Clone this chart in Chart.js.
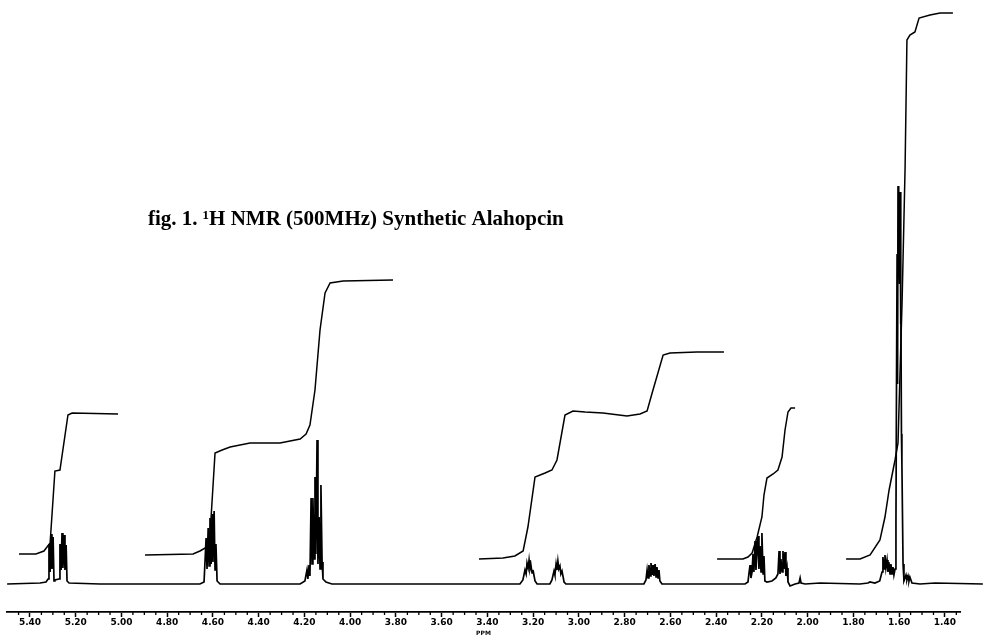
<!DOCTYPE html>
<html>
<head>
<meta charset="utf-8">
<script src="https://cdn.jsdelivr.net/npm/chart.js@4.4.1/dist/chart.umd.min.js"></script>
<style>
  html, body { margin: 0; padding: 0; background: #fff; }
  #wrap { width: 983px; height: 637px; }
</style>
</head>
<body>
<div id="wrap"><canvas id="grafico1"></canvas></div>
<script>
// titulo y etiquetas del eje
const titulo = 'fig. 1. \u00B9H NMR (500MHz) Synthetic Alahopcin';
const etiquetasPpm = [5.40, 5.20, 5.00, 4.80, 4.60, 4.40, 4.20, 4.00, 3.80, 3.60, 3.40,
                      3.20, 3.00, 2.80, 2.60, 2.40, 2.20, 2.00, 1.80, 1.60, 1.40];

// espectro: [ppm, intensidad]
const espectro = [
  [5.500, 0], [5.356, 1], [5.330, 2], [5.321, 5], [5.317, 40], [5.312, 12], [5.308, 50],
  [5.304, 15], [5.299, 47], [5.295, 3], [5.291, 4], [5.273, 5], [5.269, 40], [5.264, 14],
  [5.260, 51], [5.256, 16], [5.251, 49], [5.247, 14], [5.242, 39], [5.238, 3], [5.229, 1],
  [5.094, 0], [4.657, 0], [4.639, 2], [4.630, 46], [4.626, 15], [4.621, 56], [4.617, 18],
  [4.613, 66], [4.608, 20], [4.604, 70], [4.600, 22], [4.595, 73], [4.591, 14], [4.587, 40],
  [4.582, 3], [4.569, 0], [4.219, 0], [4.198, 3], [4.189, 14], [4.185, 5], [4.180, 19],
  [4.176, 8], [4.171, 86], [4.167, 20], [4.163, 86], [4.158, 25], [4.154, 107], [4.150, 30],
  [4.145, 144], [4.141, 20], [4.136, 67], [4.132, 15], [4.128, 99], [4.123, 22], [4.119, 5],
  [4.106, 2], [4.080, 0], [3.258, 0], [3.245, 4], [3.236, 14], [3.231, 10], [3.227, 21],
  [3.222, 16], [3.218, 24], [3.214, 15], [3.210, 19], [3.205, 11], [3.201, 14], [3.192, 3],
  [3.183, 0], [3.127, 0], [3.118, 4], [3.109, 13], [3.105, 9], [3.100, 20], [3.096, 14],
  [3.092, 23], [3.088, 15], [3.083, 18], [3.079, 10], [3.074, 13], [3.065, 2], [3.057, 0],
  [2.716, 0], [2.707, 4], [2.702, 14], [2.698, 6], [2.694, 19], [2.689, 8], [2.685, 21],
  [2.680, 9], [2.676, 19], [2.672, 8], [2.667, 20], [2.663, 7], [2.659, 17], [2.654, 6],
  [2.650, 14], [2.646, 3], [2.637, 0], [2.274, 0], [2.261, 2], [2.257, 10], [2.252, 19],
  [2.248, 6], [2.243, 12], [2.239, 30], [2.235, 12], [2.230, 43], [2.226, 14], [2.221, 35],
  [2.217, 48], [2.213, 15], [2.208, 38], [2.204, 12], [2.200, 51], [2.195, 10], [2.191, 28],
  [2.187, 3], [2.178, 2], [2.156, 3], [2.139, 6], [2.130, 10], [2.125, 33], [2.121, 10],
  [2.117, 25], [2.112, 12], [2.108, 33], [2.104, 15], [2.099, 32], [2.095, 8], [2.090, 16],
  [2.086, 2], [2.077, -2], [2.055, 0], [2.038, 1], [2.033, 6], [2.029, 1], [2.011, 0],
  [1.946, 1], [1.772, 0], [1.736, 1], [1.728, 2], [1.706, 1], [1.685, 3], [1.675, 12],
  [1.671, 27], [1.666, 15], [1.662, 29], [1.658, 16], [1.653, 24], [1.649, 12], [1.645, 22],
  [1.640, 10], [1.636, 20], [1.631, 10], [1.627, 17], [1.623, 9], [1.618, 15], [1.614, 60],
  [1.612, 180], [1.609, 330], [1.607, 200], [1.605, 398], [1.603, 330], [1.601, 370],
  [1.598, 300], [1.596, 392], [1.594, 260], [1.592, 300], [1.590, 150], [1.588, 120],
  [1.583, 20], [1.579, 3], [1.574, 6], [1.570, 9], [1.566, 4], [1.561, 8], [1.557, 3],
  [1.553, 7], [1.544, 1], [1.509, 0], [1.443, 1], [1.234, 0]
];

// curvas de integracion: [ppm, altura]
const integral1 = [
  [5.448, 30], [5.374, 30], [5.339, 33], [5.312, 41], [5.291, 113], [5.269, 114],
  [5.234, 169], [5.216, 171], [5.015, 170]
];
const integral2 = [
  [4.897, 29], [4.687, 30], [4.657, 33], [4.626, 37], [4.613, 49], [4.591, 131], [4.560, 134],
  [4.525, 137], [4.438, 141], [4.307, 141], [4.219, 145], [4.193, 150], [4.176, 159],
  [4.154, 194], [4.132, 254], [4.110, 291], [4.088, 301], [4.031, 303], [3.813, 304]
];
const integral3 = [
  [3.437, 25], [3.332, 26], [3.280, 28], [3.244, 33], [3.223, 57], [3.192, 107], [3.148, 111],
  [3.118, 114], [3.096, 124], [3.061, 169], [3.026, 173], [2.973, 172], [2.895, 171],
  [2.790, 168], [2.733, 170], [2.702, 173], [2.680, 191], [2.632, 229], [2.602, 231],
  [2.484, 232], [2.366, 232]
];
const integral4 = [
  [2.396, 25], [2.283, 25], [2.261, 27], [2.243, 31], [2.221, 47], [2.200, 67], [2.191, 89],
  [2.178, 106], [2.151, 110], [2.130, 114], [2.112, 127], [2.099, 154], [2.086, 172],
  [2.073, 176], [2.055, 176]
];
const integral5 = [
  [1.832, 25], [1.771, 25], [1.727, 29], [1.684, 44], [1.662, 67], [1.644, 94], [1.618, 124],
  [1.605, 141], [1.587, 284], [1.574, 417], [1.566, 544], [1.553, 549], [1.531, 552],
  [1.513, 566], [1.465, 569], [1.421, 571], [1.365, 571]
];

const aPuntos = arr => arr.map(([x, y]) => ({ x, y }));

const linea = (datos, ancho) => ({
  data: aPuntos(datos),
  borderColor: '#000',
  borderWidth: ancho,
  pointRadius: 0,
  tension: 0,
  clip: false
});

// titulo y marcas menores del eje
const extras = {
  id: 'extras',
  afterDraw(chart) {
    const ctx = chart.ctx;
    const x = chart.scales.x;
    const yb = chart.chartArea.bottom;
    ctx.save();
    ctx.strokeStyle = '#000';
    ctx.lineWidth = 1.3;
    for (let k = 27; k <= 109; k++) {
      if (k % 4 === 0) continue;
      const px = x.getPixelForValue(k * 0.05);
      ctx.beginPath();
      ctx.moveTo(px, yb);
      ctx.lineTo(px, yb + 3);
      ctx.stroke();
    }
    ctx.fillStyle = '#000';
    ctx.font = 'bold 21px "Liberation Serif"';
    ctx.textBaseline = 'alphabetic';
    ctx.fillText(titulo, 148, 225);
    ctx.restore();
  }
};

const Grafico = document.getElementById('grafico1').getContext('2d');

window.graficaRmn = new Chart(Grafico, {
  type: 'line',
  data: {
    datasets: [
      linea(espectro, 1.7),
      linea(integral1, 1.5),
      linea(integral2, 1.5),
      linea(integral3, 1.5),
      linea(integral4, 1.5),
      linea(integral5, 1.5)
    ]
  },
  options: {
    responsive: true,
    maintainAspectRatio: false,
    animation: false,
    parsing: false,
    layout: { padding: { left: 7, right: 23, top: 0, bottom: 0 } },
    plugins: {
      legend: { display: false },
      tooltip: { enabled: false },
      title: { display: false }
    },
    scales: {
      x: {
        type: 'linear',
        reverse: true,
        min: 1.334,
        max: 5.5005,
        afterBuildTicks: s => { s.ticks = etiquetasPpm.map(v => ({ value: v })); },
        afterFit: s => { s.height = 25; },
        border: { display: true, color: '#000', width: 1.8 },
        grid: { drawOnChartArea: false, drawTicks: true, tickLength: 5, color: '#000', tickWidth: 1.5 },
        ticks: {
          autoSkip: false,
          maxRotation: 0,
          padding: 0,
          color: '#000',
          font: { family: 'DejaVu Sans', size: 9, weight: 'bold' },
          callback: v => Number(v).toFixed(2)
        },
        title: {
          display: true,
          text: 'PPM',
          color: '#000',
          padding: 0,
          font: { family: 'DejaVu Sans', size: 6, weight: 'bold' }
        }
      },
      y: {
        display: false,
        min: -28,
        max: 584
      }
    }
  },
  plugins: [extras]
});
</script>
</body>
</html>
